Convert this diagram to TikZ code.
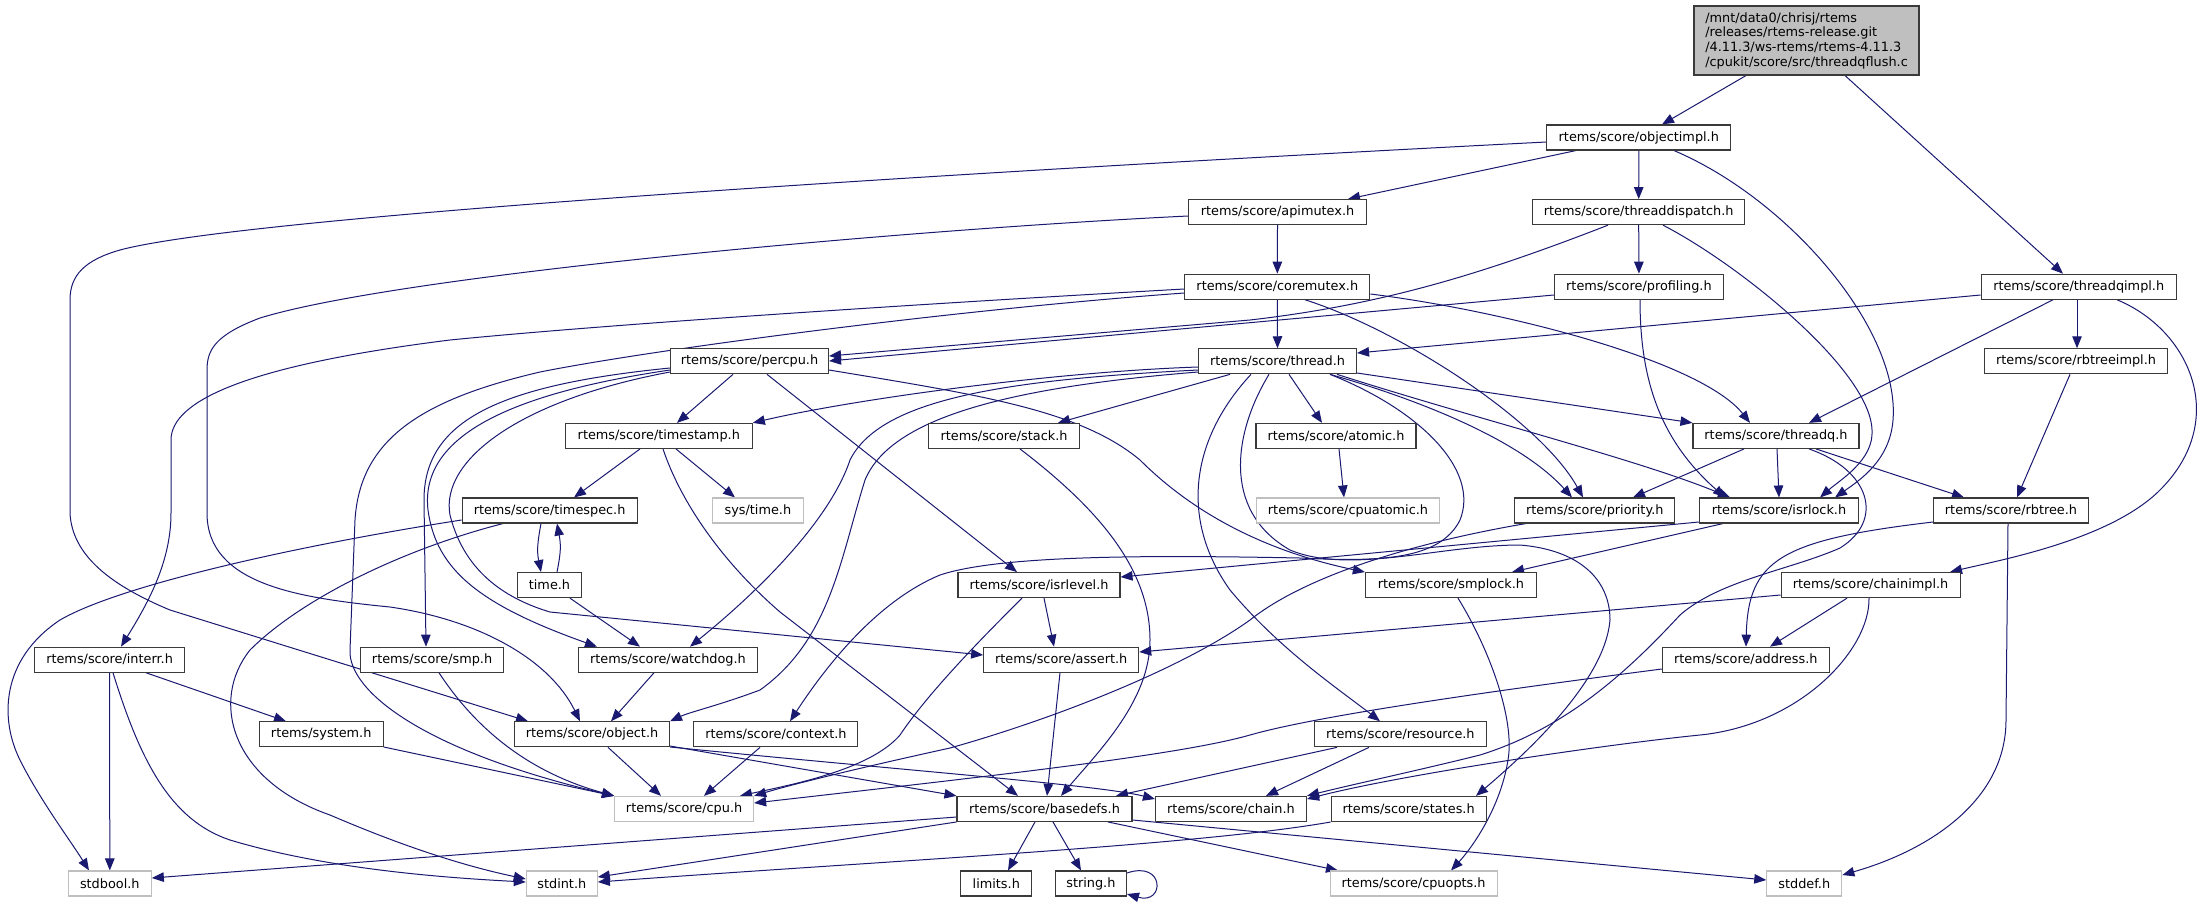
\documentclass[tikz,border=0pt]{standalone}
\usepackage{fontspec}
\setmainfont{DejaVu Sans}
\usetikzlibrary{arrows.meta,backgrounds}
\definecolor{edgecol}{HTML}{191970}
\definecolor{gry}{HTML}{BFBFBF}
\definecolor{bord}{HTML}{3A3A3A}
\newcommand\nodefont{\fontsize{12.85pt}{14.7pt}\selectfont}
\tikzset{
  box/.style={draw=bord, line width=1.1pt, fill=white, minimum height=25pt, inner sep=0pt, font=\nodefont},
  gbox/.style={box, draw=gry},
  edge/.style={draw=edgecol, line width=1pt, -{Triangle[length=12pt,width=9.5pt]}}
}
\begin{document}
\begin{tikzpicture}[x=1pt,y=-1pt]
\useasboundingbox (0,0) rectangle (2205,903);
% nodes
\node[box, fill=gry, minimum width=225pt, minimum height=69pt, align=left] (root) at (1806.5,40.5) {/mnt/data0/chrisj/rtems\\/releases/rtems-release.git\\/4.11.3/ws-rtems/rtems-4.11.3\\/cpukit/score/src/threadqflush.c};
\node[box, minimum width=184pt] (objectimpl) at (1638.8,137.5) {rtems/score/objectimpl.h};
\node[box, minimum width=178pt] (apimutex) at (1277.5,212.1) {rtems/score/apimutex.h};
\node[box, minimum width=212pt] (threaddispatch) at (1638.7,212.1) {rtems/score/threaddispatch.h};
\node[box, minimum width=185pt] (coremutex) at (1277.3,286.7) {rtems/score/coremutex.h};
\node[box, minimum width=169pt] (profiling) at (1638.9,286.7) {rtems/score/profiling.h};
\node[box, minimum width=195pt] (threadqimpl) at (2078.7,286.7) {rtems/score/threadqimpl.h};
\node[box, minimum width=158pt] (percpu) at (749.5,361.3) {rtems/score/percpu.h};
\node[box, minimum width=158pt] (thread) at (1277.5,361.3) {rtems/score/thread.h};
\node[box, minimum width=183pt] (rbtreeimpl) at (2076,361.3) {rtems/score/rbtreeimpl.h};
\node[box, minimum width=187pt] (timestamp) at (658.8,435.9) {rtems/score/timestamp.h};
\node[box, minimum width=151pt] (stack) at (1004,435.9) {rtems/score/stack.h};
\node[box, minimum width=160pt] (atomic) at (1336,435.9) {rtems/score/atomic.h};
\node[box, minimum width=166pt] (threadq) at (1776,435.9) {rtems/score/threadq.h};
\node[box, minimum width=175pt] (timespec) at (549.6,510.5) {rtems/score/timespec.h};
\node[gbox, minimum width=91pt] (systime) at (757.9,510.5) {sys/time.h};
\node[gbox, minimum width=183pt] (cpuatomic) at (1348,510.5) {rtems/score/cpuatomic.h};
\node[box, minimum width=160pt] (priority) at (1594.8,510.5) {rtems/score/priority.h};
\node[box, minimum width=159pt] (isrlock) at (1779,510.5) {rtems/score/isrlock.h};
\node[box, minimum width=155pt] (rbtree) at (2011,510.5) {rtems/score/rbtree.h};
\node[box, minimum width=64pt] (timeh) at (549.5,585.1) {time.h};
\node[box, minimum width=162pt] (isrlevel) at (1039,585.1) {rtems/score/isrlevel.h};
\node[box, minimum width=171pt] (smplock) at (1450.9,585.1) {rtems/score/smplock.h};
\node[box, minimum width=179pt] (chainimpl) at (1870.6,585.1) {rtems/score/chainimpl.h};
\node[box, minimum width=150pt] (interr) at (109.6,659.7) {rtems/score/interr.h};
\node[box, minimum width=143pt] (smp) at (432.1,659.7) {rtems/score/smp.h};
\node[box, minimum width=179pt] (watchdog) at (668,659.7) {rtems/score/watchdog.h};
\node[box, minimum width=155pt] (assert) at (1061.2,659.7) {rtems/score/assert.h};
\node[box, minimum width=167pt] (address) at (1745.8,659.7) {rtems/score/address.h};
\node[box, minimum width=124pt] (system) at (321.2,734.3) {rtems/system.h};
\node[box, minimum width=155pt] (object) at (592,734.3) {rtems/score/object.h};
\node[box, minimum width=164pt] (context) at (775.9,734.3) {rtems/score/context.h};
\node[box, minimum width=171.5pt] (resource) at (1400.4,734.3) {rtems/score/resource.h};
\node[gbox, minimum width=139pt] (cpu) at (684.1,808.9) {rtems/score/cpu.h};
\node[box, minimum width=175pt] (basedefs) at (1044.5,808.9) {rtems/score/basedefs.h};
\node[box, minimum width=151pt] (chain) at (1231,808.9) {rtems/score/chain.h};
\node[box, minimum width=155pt] (states) at (1408.6,808.9) {rtems/score/states.h};
\node[gbox, minimum width=83pt] (stdbool) at (109.8,883.5) {stdbool.h};
\node[gbox, minimum width=71pt] (stdint) at (561.8,883.5) {stdint.h};
\node[box, minimum width=71pt] (limits) at (996.3,883.5) {limits.h};
\node[box, minimum width=71pt] (string) at (1090.9,883.5) {string.h};
\node[gbox, minimum width=167pt] (cpuopts) at (1413.6,883.5) {rtems/score/cpuopts.h};
\node[gbox, minimum width=75pt] (stddef) at (1804.3,883.5) {stddef.h};
\begin{pgfonlayer}{background}
% root
\draw[edge] (root.south -| 1746,0) -- (objectimpl.north -| 1662,0);
\draw[edge] (root.south -| 1845,0) -- (threadqimpl.north -| 2063,0);
% objectimpl
\draw[edge] (objectimpl.west |- 0,142) .. controls (1000,170) and (250,215) .. (120,250) .. controls (85,260) and (70,275) .. (70,300) -- (70,513) .. controls (72,555) and (110,585) .. (170,610) -- (object.north -| 528,0);
\draw[edge] (objectimpl.south -| 1576,0) -- (apimutex.north -| 1348,0);
\draw[edge] (objectimpl.south) -- (threaddispatch.north);
\draw[edge] (objectimpl.south -| 1674,0) .. controls (1790,200) and (1900,330) .. (1893,420) .. controls (1890,460) and (1860,480) .. (isrlock.north -| 1835,0);
% apimutex
\draw[edge] (apimutex.west |- 0,216) .. controls (900,230) and (400,275) .. (260,318) .. controls (215,335) and (207,350) .. (207,370) -- (207,513) .. controls (207,585) and (300,598) .. (390,607) .. controls (480,620) and (550,660) .. (object.north -| 580,0);
\draw[edge] (apimutex.south) -- (coremutex.north);
% threaddispatch
\draw[edge] (threaddispatch.south -| 1608,0) .. controls (1480,275) and (1380,305) .. (1250,320) -- (percpu.east |- 0,356);
\draw[edge] (threaddispatch.south) -- (profiling.north);
\draw[edge] (threaddispatch.south -| 1663,0) .. controls (1740,265) and (1870,370) .. (1872,430) .. controls (1874,460) and (1840,480) .. (isrlock.north -| 1820,0);
% profiling
\draw[edge] (profiling.west |- 0,295) -- (percpu.east |- 0,361);
\draw[edge] (profiling.south -| 1640,0) .. controls (1640,380) and (1660,440) .. (isrlock.north -| 1725,0);
% coremutex
\draw[edge] (coremutex.south) -- (thread.north);
\draw[edge] (coremutex.east |- 0,294) .. controls (1500,310) and (1700,360) .. (threadq.north -| 1750,0);
\draw[edge] (coremutex.south -| 1305,0) .. controls (1400,330) and (1540,420) .. (priority.north -| 1583,0);
\draw[edge] (coremutex.west |- 0,289) .. controls (900,305) and (600,325) .. (450,340) .. controls (250,365) and (171,400) .. (171,440) -- (171,513) .. controls (171,560) and (150,600) .. (interr.north -| 121,0);
\draw[edge] (coremutex.west |- 0,293) .. controls (950,310) and (650,350) .. (540,372) .. controls (420,400) and (360,440) .. (355,520) -- (350,650) .. controls (348,690) and (420,750) .. (cpu.north west);
% percpu
\draw[edge] (percpu.south -| 733,0) -- (timestamp.north -| 677,0);
\draw[edge] (percpu.south -| 767,0) -- (isrlevel.north -| 1017,0);
\draw[edge] (percpu.east |- 0,370) .. controls (980,395) and (1080,410) .. (1140,460) .. controls (1190,510) and (1260,550) .. (smplock.north west);
\draw[edge] (percpu.west |- 0,368) .. controls (500,385) and (424,420) .. (424,500) -- (smp.north -| 426,0);
\draw[edge] (percpu.west |- 0,370) .. controls (500,395) and (420,440) .. (428,510) .. controls (436,570) and (480,605) .. (watchdog.north -| 597,0);
\draw[edge] (percpu.west |- 0,372) .. controls (520,400) and (440,460) .. (450,515) .. controls (465,575) and (510,600) .. (550,612) -- (assert.west |- 0,655);
% threadqimpl
\draw[edge] (threadqimpl.west |- 0,295) -- (thread.east |- 0,353);
\draw[edge] (threadqimpl.south -| 2053,0) -- (threadq.north -| 1809,0);
\draw[edge] (threadqimpl.south -| 2077,0) -- (rbtreeimpl.north -| 2077,0);
\draw[edge] (threadqimpl.south -| 2117,0) .. controls (2190,330) and (2230,420) .. (2160,490) .. controls (2110,540) and (2000,560) .. (chainimpl.north -| 1950,0);
% thread
\draw[edge] (thread.south -| 1289,0) -- (atomic.north -| 1322,0);
\draw[edge] (thread.south -| 1230,0) -- (stack.north -| 1058,0);
\draw[edge] (thread.west |- 0,367) .. controls (1050,372) and (850,400) .. (timestamp.north east);
\draw[edge] (thread.west |- 0,370) .. controls (1000,380) and (880,400) .. (850,460) .. controls (830,520) and (760,590) .. (watchdog.north -| 690,0);
\draw[edge] (thread.west |- 0,372) .. controls (1000,388) and (890,420) .. (865,480) .. controls (840,560) and (830,640) .. (760,690) .. controls (720,705) and (690,712) .. (object.north east);
\draw[edge] (thread.south -| 1330,0) .. controls (1420,410) and (1480,470) .. (1460,520) .. controls (1440,560) and (1380,562) .. (1300,558) .. controls (1150,555) and (1000,555) .. (940,575) .. controls (880,600) and (830,660) .. (context.north -| 790,0);
\draw[edge] (thread.south -| 1269,0) .. controls (1235,430) and (1220,510) .. (1290,550) .. controls (1350,575) and (1440,545) .. (1520,545) .. controls (1580,550) and (1610,580) .. (1610,620) .. controls (1605,680) and (1530,750) .. (states.north -| 1476,0);
\draw[edge] (thread.south -| 1251,0) .. controls (1190,440) and (1180,520) .. (1230,590) .. controls (1280,650) and (1340,690) .. (resource.north -| 1380,0);
\draw[edge] (thread.south -| 1330,0) .. controls (1420,400) and (1520,440) .. (priority.north -| 1572,0);
\draw[edge] (thread.south -| 1337,0) .. controls (1480,420) and (1640,460) .. (isrlock.north -| 1730,0);
\draw[edge] (thread.east |- 0,373) -- (threadq.north west);
% timestamp
\draw[edge] (timestamp.south -| 640,0) -- (timespec.north -| 574,0);
\draw[edge] (timestamp.south -| 676,0) -- (systime.north -| 735,0);
\draw[edge] (timestamp.south -| 663,0) .. controls (680,500) and (720,560) .. (780,612) -- (basedefs.north -| 1018,0);
% stack, atomic
\draw[edge] (stack.south -| 1020,0) .. controls (1100,510) and (1150,570) .. (1150,640) .. controls (1150,700) and (1100,750) .. (basedefs.north -| 1061,0);
\draw[edge] (atomic.south -| 1339,0) -- (cpuatomic.north -| 1344,0);
% timespec, time.h
\draw[edge] (timespec.west |- 0,520) .. controls (300,545) and (120,585) .. (60,620) .. controls (0,660) and (0,720) .. (20,760) .. controls (40,800) and (70,840) .. (stdbool.north -| 89,0);
\draw[edge] (timespec.south -| 503,0) .. controls (400,550) and (300,600) .. (250,650) .. controls (210,700) and (230,780) .. (330,815) .. controls (400,845) and (460,865) .. (stdint.west |- 0,879);
\draw[edge] (timespec.south -| 541,0) .. controls (537,545) and (537,552) .. (timeh.north -| 541,0);
\draw[edge] (timeh.north -| 557,0) .. controls (561,552) and (561,545) .. (timespec.south -| 557,0);
\draw[edge] (timeh.south -| 570,0) -- (watchdog.north -| 640,0);
% interr, smp, system
\draw[edge] (interr.south -| 146,0) -- (system.north -| 286,0);
\draw[edge] (interr.south) -- (stdbool.north);
\draw[edge] (interr.south -| 113,0) .. controls (140,760) and (170,820) .. (230,840) .. controls (330,870) and (450,878) .. (stdint.west |- 0,882);
\draw[edge] (smp.south -| 439,0) .. controls (470,720) and (520,770) .. (cpu.north west);
\draw[edge] (system.east |- 0,747) -- (cpu.north west);
% watchdog
\draw[edge] (watchdog.south -| 654,0) -- (object.north -| 611,0);
% isrlevel
\draw[edge] (isrlevel.south -| 1044,0) -- (assert.north -| 1054,0);
\draw[edge] (isrlevel.south -| 1022,0) .. controls (990,630) and (930,690) .. (900,735) .. controls (870,770) and (790,785) .. (cpu.north -| 740,0);
% isrlock
\draw[edge] (isrlock.west |- 0,522) -- (isrlevel.east |- 0,577);
\draw[edge] (isrlock.south -| 1723,0) -- (smplock.north -| 1512,0);
% smplock
\draw[edge] (smplock.south -| 1458,0) .. controls (1490,650) and (1515,720) .. (1508,760) .. controls (1500,810) and (1470,850) .. (cpuopts.north -| 1451,0);
% priority
\draw[edge] (priority.south -| 1526,0) .. controls (1400,545) and (1300,580) .. (1250,620) .. controls (1180,670) and (1050,720) .. (950,748) .. controls (850,770) and (790,785) .. (cpu.north east);
% chainimpl
\draw[edge] (chainimpl.west |- 0,595) -- (assert.east |- 0,652);
\draw[edge] (chainimpl.south -| 1847,0) -- (address.north -| 1770,0);
\draw[edge] (chainimpl.south -| 1869,0) .. controls (1870,650) and (1800,725) .. (1700,735) .. controls (1600,745) and (1400,775) .. (chain.east |- 0,799);
% rbtree, rbtreeimpl
\draw[edge] (rbtree.west |- 0,522) .. controls (1780,540) and (1748,560) .. (address.north -| 1746,0);
\draw[edge] (rbtree.south -| 2008,0) -- (2006,720) .. controls (2006,800) and (1930,850) .. (stddef.east |- 0,875);
\draw[edge] (rbtreeimpl.south -| 2070,0) -- (rbtree.north -| 2017,0);
% threadq
\draw[edge] (threadq.south -| 1777,0) -- (isrlock.north -| 1779,0);
\draw[edge] (threadq.south -| 1744,0) -- (priority.north -| 1633,0);
\draw[edge] (threadq.south -| 1816,0) -- (rbtree.north -| 1964,0);
\draw[edge] (threadq.south -| 1809,0) .. controls (1870,470) and (1885,520) .. (1840,548) .. controls (1790,570) and (1720,580) .. (1680,615) .. controls (1620,680) and (1560,730) .. (1480,755) .. controls (1420,770) and (1350,785) .. (chain.north east);
% address
\draw[edge] (address.west |- 0,669) .. controls (1500,690) and (1320,715) .. (1250,735) .. controls (1180,755) and (1000,775) .. (cpu.east |- 0,803);
% resource
\draw[edge] (resource.south -| 1337,0) -- (basedefs.north -| 1116,0);
\draw[edge] (resource.south -| 1369,0) -- (chain.north -| 1266,0);
% object, context, assert
\draw[edge] (object.south -| 608,0) -- (cpu.north -| 661,0);
\draw[edge] (object.east |- 0,746) -- (basedefs.north west);
\draw[edge] (object.east |- 0,747) .. controls (900,770) and (1100,785) .. (chain.west |- 0,799);
\draw[edge] (context.south -| 760,0) -- (cpu.north -| 704,0);
\draw[edge] (assert.south -| 1060,0) -- (basedefs.north -| 1047,0);
% basedefs
\draw[edge] (basedefs.west |- 0,817) -- (stdbool.east |- 0,878);
\draw[edge] (basedefs.south west) -- (stdint.east |- 0,877);
\draw[edge] (basedefs.south -| 1035,0) -- (limits.north -| 1008,0);
\draw[edge] (basedefs.south -| 1053,0) -- (string.north -| 1081,0);
\draw[edge] (basedefs.south -| 1108,0) -- (cpuopts.north -| 1338,0);
\draw[edge] (basedefs.east |- 0,820) -- (stddef.west |- 0,880);
\draw[edge] (string.east |- 0,873) .. controls (1165,860) and (1165,905) .. (string.east |- 0,894);
% states
\draw[edge] (states.west |- 0,822) .. controls (1200,845) and (900,860) .. (stdint.east |- 0,882);
\end{pgfonlayer}
\end{tikzpicture}
\end{document}
